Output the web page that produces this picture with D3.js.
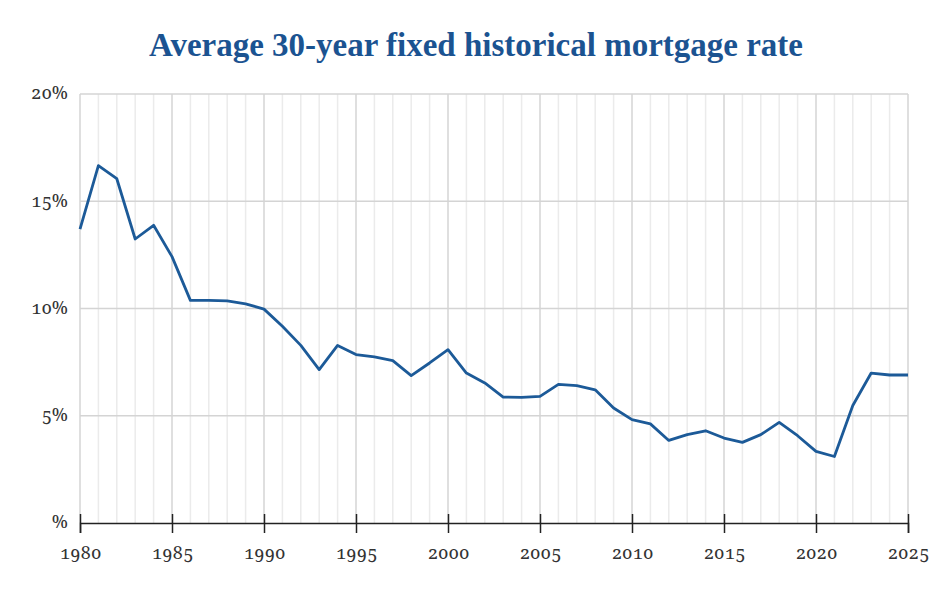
<!DOCTYPE html>
<html>
<head>
<meta charset="utf-8">
<script src="https://cdn.jsdelivr.net/npm/d3@7"></script>
<style>
  body { margin: 0; background: #fff; }
  .lbl { font-variant-numeric: oldstyle-nums; font-feature-settings: "onum" 1; }
</style>
</head>
<body>
<div id="chart"></div>
<script>
// data
var years = d3.range(1980, 2026);
var rates = [13.7, 16.66, 16.05, 13.24, 13.88, 12.42, 10.38, 10.38, 10.36, 10.22,
             9.97, 9.17, 8.28, 7.15, 8.28, 7.85, 7.74, 7.57, 6.87, 7.46,
             8.08, 6.99, 6.53, 5.87, 5.86, 5.9, 6.46, 6.4, 6.21, 5.36,
             4.82, 4.62, 3.85, 4.12, 4.3, 3.96, 3.76, 4.12, 4.69, 4.07,
             3.34, 3.1, 5.48, 6.99, 6.9, 6.9];
var yTicks = [0, 5, 10, 15, 20];
var xTicks = d3.range(1980, 2026, 5);

var W = 950, H = 609;
var margin = {left: 80, top: 94, right: 42, bottom: 86};
var labelFont = "'Noto Serif', 'Liberation Serif', serif";

var svg = d3.select("#chart").append("svg")
  .attr("width", W)
  .attr("height", H);

var x = d3.scaleLinear().domain([1980, 2025]).range([margin.left, W - margin.right]);
var y = d3.scaleLinear().domain([0, 20]).range([H - margin.bottom, margin.top]);

// title
svg.append("text")
  .attr("x", 476)
  .attr("y", 56)
  .attr("text-anchor", "middle")
  .attr("font-family", "'Liberation Serif', 'Times New Roman', serif")
  .attr("font-weight", "bold")
  .attr("font-size", 33)
  .attr("fill", "#1b5391")
  .text("Average 30-year fixed historical mortgage rate");

// vertical grid, one line per year
svg.append("g").selectAll("line")
  .data(years)
  .enter().append("line")
  .attr("x1", function(d) { return x(d); })
  .attr("x2", function(d) { return x(d); })
  .attr("y1", y(20))
  .attr("y2", y(0))
  .style("stroke", function(d) { return d % 5 === 0 ? "#d4d4d4" : "#ebebeb"; })
  .style("stroke-width", 1.5);

// horizontal grid
svg.append("g").selectAll("line")
  .data(yTicks.filter(function(d) { return d > 0; }))
  .enter().append("line")
  .attr("x1", x(1980))
  .attr("x2", x(2025))
  .attr("y1", function(d) { return y(d); })
  .attr("y2", function(d) { return y(d); })
  .style("stroke", "#d4d4d4")
  .style("stroke-width", 1.5);

// y labels
svg.append("g").selectAll("text")
  .data(yTicks)
  .enter().append("text")
  .attr("class", "lbl")
  .attr("x", 68)
  .attr("y", function(d) { return y(d); })
  .attr("dy", "0.3em")
  .attr("text-anchor", "end")
  .attr("font-family", labelFont)
  .attr("font-size", 18)
  .attr("fill", "#333")
  .text(function(d) { return d === 0 ? "%" : d + "%"; });

// x axis
var xAxis = d3.axisBottom(x)
  .tickValues(xTicks)
  .tickFormat(d3.format("d"))
  .tickSize(10)
  .tickPadding(13);

var gx = svg.append("g")
  .attr("transform", "translate(0," + y(0) + ")")
  .call(xAxis);
gx.attr("font-family", labelFont).attr("font-size", 18);
gx.select(".domain").style("stroke", "#222").style("stroke-width", 1.5);
gx.selectAll(".tick line")
  .attr("y1", -9)
  .style("stroke", "#222")
  .style("stroke-width", 1.5);
gx.selectAll(".tick text")
  .attr("class", "lbl")
  .attr("fill", "#333");

// the line
var line = d3.line()
  .x(function(d, i) { return x(years[i]); })
  .y(function(d) { return y(d); });

svg.append("path")
  .datum(rates)
  .attr("d", line)
  .style("fill", "none")
  .style("stroke", "#1c5a98")
  .style("stroke-width", 2.8)
  .style("stroke-linejoin", "round");
</script>
</body>
</html>
